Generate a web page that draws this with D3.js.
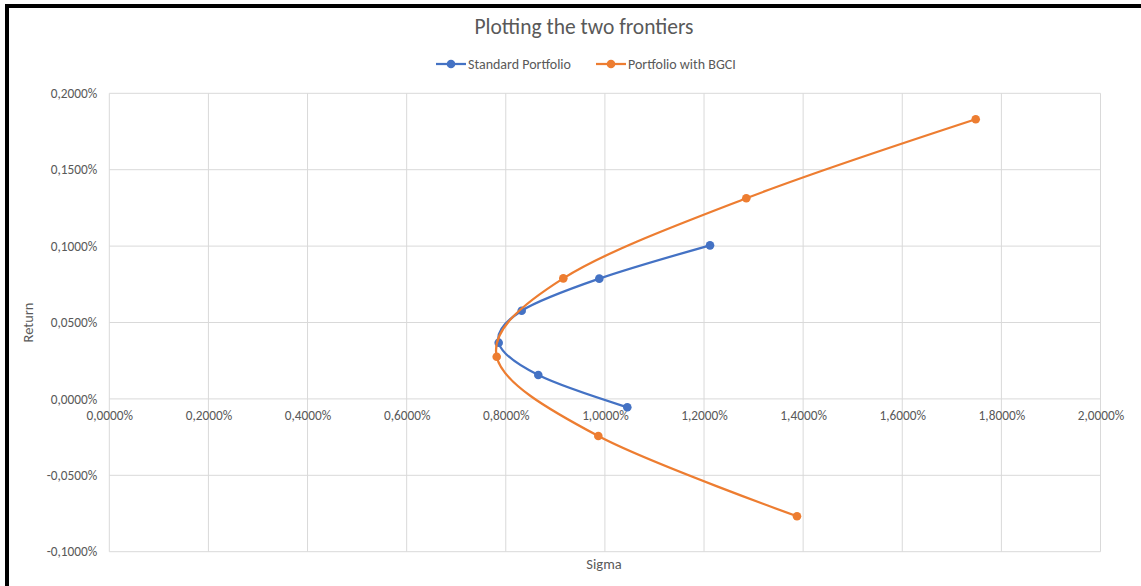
<!DOCTYPE html>
<html>
<head>
<meta charset="utf-8">
<script src="https://cdn.jsdelivr.net/npm/d3@7"></script>
<style>
  html, body { margin: 0; padding: 0; background: #fff; }
  svg { display: block; font-family: Carlito, Calibri, Lato, "Open Sans", sans-serif; }
</style>
</head>
<body>
<svg id="chart" width="1141" height="586"></svg>
<script>
// Efficient frontiers: sigma (%) vs expected return (%)
const seriesNames = ["Standard Portfolio", "Portfolio with BGCI"];
const seriesColors = ["#4472C4", "#ED7D31"];

const standardSigma  = [1.0452, 0.8656, 0.7857, 0.8321, 0.9887, 1.2121];
const standardReturn = [-0.0055, 0.0156, 0.0368, 0.0577, 0.0787, 0.1005];

const bgciSigma  = [1.3876, 0.9867, 0.7817, 0.9161, 1.2853, 1.7482];
const bgciReturn = [-0.0768, -0.0243, 0.0276, 0.0789, 0.1313, 0.1830];

const xTicks = [0, 0.2, 0.4, 0.6, 0.8, 1.0, 1.2, 1.4, 1.6, 1.8, 2.0];
const yTicks = [-0.1, -0.05, 0, 0.05, 0.1, 0.15, 0.2];

const W = 1141, H = 586;
const plot = { left: 109.3, right: 1100.5, top: 93.3, bottom: 551.7 };
const labelSize = 13.3;

const svg = d3.select("#chart");
svg.append("rect").attr("width", W).attr("height", H).attr("fill", "#fff");

const x = d3.scaleLinear().domain([0, 2]).range([plot.left, plot.right]);
const y = d3.scaleLinear().domain([-0.1, 0.2]).range([plot.bottom, plot.top]);

const fmt = v => d3.format(".4f")(v).replace("−", "-").replace(".", ",") + "%";

const grid = svg.append("g").attr("stroke", "#d9d9d9").attr("stroke-width", 1);
grid.selectAll("line.v").data(xTicks).join("line")
  .attr("x1", d => x(d)).attr("x2", d => x(d))
  .attr("y1", plot.top).attr("y2", plot.bottom);
grid.selectAll("line.h").data(yTicks).join("line")
  .attr("x1", plot.left).attr("x2", plot.right)
  .attr("y1", d => y(d)).attr("y2", d => y(d));

// Y axis labels
const yAxis = d3.axisLeft(y).tickValues(yTicks).tickFormat(fmt).tickSize(0).tickPadding(12);
svg.append("g").attr("transform", `translate(${plot.left},0)`).call(yAxis)
  .call(g => g.select(".domain").remove())
  .call(g => g.selectAll("text").attr("fill", "#595959").attr("font-size", labelSize)
     .attr("font-family", "Carlito, Calibri, Lato, sans-serif").attr("dy", "0.32em"));

// X axis labels, crossing at zero return
const xAxis = d3.axisBottom(x).tickValues(xTicks).tickFormat(fmt).tickSize(0).tickPadding(12);
svg.append("g").attr("transform", `translate(0,${y(0)})`).call(xAxis)
  .call(g => g.select(".domain").remove())
  .call(g => g.selectAll("text").attr("fill", "#595959").attr("font-size", labelSize)
     .attr("font-family", "Carlito, Calibri, Lato, sans-serif"));

// Title
svg.append("text").attr("x", 584).attr("y", 34).attr("text-anchor", "middle")
  .attr("fill", "#595959").attr("font-size", 21.5).text("Plotting the two frontiers");

// Axis titles
svg.append("text").attr("x", 604).attr("y", 569).attr("text-anchor", "middle")
  .attr("fill", "#595959").attr("font-size", 14.5).text("Sigma");
svg.append("text").attr("transform", `translate(33,${(plot.top + plot.bottom) / 2}) rotate(-90)`)
  .attr("text-anchor", "middle").attr("fill", "#595959").attr("font-size", 14.5).text("Return");

// Series
const series = [
  { name: seriesNames[0], color: seriesColors[0], pts: standardSigma.map((s, i) => [s, standardReturn[i]]) },
  { name: seriesNames[1], color: seriesColors[1], pts: bgciSigma.map((s, i) => [s, bgciReturn[i]]) }
];

const line = d3.line().x(d => x(d[0])).y(d => y(d[1])).curve(d3.curveCardinal.tension(0));

series.forEach(s => {
  svg.append("path").attr("d", line(s.pts)).attr("fill", "none")
    .attr("stroke", s.color).attr("stroke-width", 2.25).attr("stroke-linecap", "round");
  svg.append("g").selectAll("circle").data(s.pts).join("circle")
    .attr("cx", d => x(d[0])).attr("cy", d => y(d[1])).attr("r", 4.3)
    .attr("fill", s.color);
});

// Legend
const legendItems = [
  { x: 436, color: seriesColors[0], name: seriesNames[0] },
  { x: 596, color: seriesColors[1], name: seriesNames[1] }
];
const lg = svg.append("g");
legendItems.forEach(it => {
  const g = lg.append("g").attr("transform", `translate(${it.x},64)`);
  g.append("line").attr("x1", 0).attr("x2", 30).attr("stroke", it.color).attr("stroke-width", 2.25);
  g.append("circle").attr("cx", 15).attr("r", 4.3).attr("fill", it.color);
  g.append("text").attr("x", 32).attr("dy", "0.35em").attr("fill", "#595959")
    .attr("font-size", 14).text(it.name);
});

// Frame edges along the top and left
svg.append("rect").attr("x", 5).attr("y", 4).attr("width", W - 5).attr("height", 4).attr("fill", "#000");
svg.append("rect").attr("x", 5).attr("y", 4).attr("width", 4).attr("height", H - 4).attr("fill", "#000");
</script>
</body>
</html>
